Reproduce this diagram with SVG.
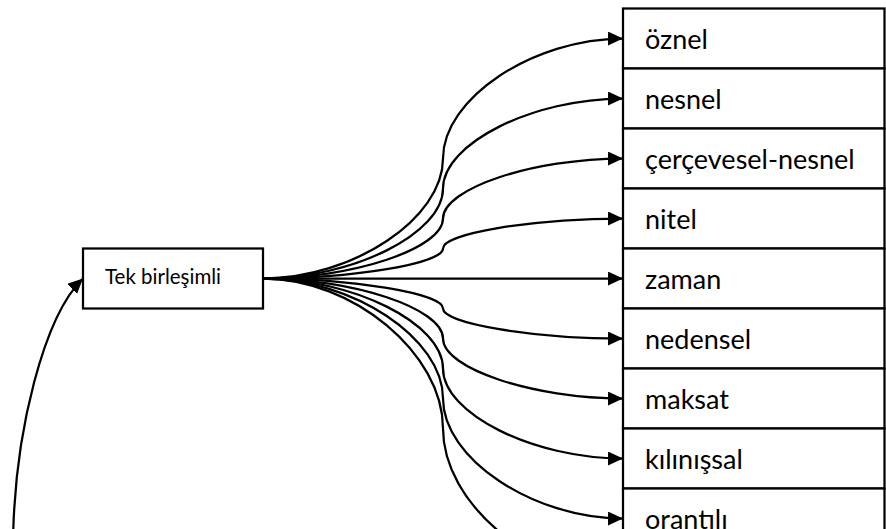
<svg xmlns="http://www.w3.org/2000/svg" width="886" height="529" viewBox="0 0 886 529">
  <style>
    .box { fill: #ffffff; stroke: #000000; stroke-width: 2.25; }
    .lbl { font-family: Lato, "Open Sans", "Liberation Sans", sans-serif; fill: #000000; }
    .big { font-size: 27px; }
    .small { font-size: 20.5px; }
    .link { fill: none; stroke: #000000; stroke-width: 2.25; marker-end: url(#arrow); }
  </style>
  <defs>
    <marker id="arrow" markerUnits="userSpaceOnUse" markerWidth="16" markerHeight="15" refX="15" refY="7" orient="auto">
      <path d="M0,0 L15,7 L0,14 z" fill="#000000"/>
    </marker>
  </defs>

  <rect width="886" height="529" fill="#ffffff"/>

  <!-- source node -->
  <g id="tek-birlesimli">
    <rect class="box" x="83" y="248.5" width="180" height="60"/>
    <text class="lbl small" x="105" y="283.5">Tek birleşimli</text>
  </g>

  <!-- target column -->
  <g id="oznel">
    <rect class="box" x="623" y="8.5" width="261.5" height="60"/>
    <text class="lbl big" x="645" y="48.5">öznel</text>
  </g>
  <g id="nesnel">
    <rect class="box" x="623" y="68.5" width="261.5" height="60"/>
    <text class="lbl big" x="645" y="108.5">nesnel</text>
  </g>
  <g id="cercevesel-nesnel">
    <rect class="box" x="623" y="128.5" width="261.5" height="60"/>
    <text class="lbl big" x="645" y="168.5">çerçevesel-nesnel</text>
  </g>
  <g id="nitel">
    <rect class="box" x="623" y="188.5" width="261.5" height="60"/>
    <text class="lbl big" x="645" y="228.5">nitel</text>
  </g>
  <g id="zaman">
    <rect class="box" x="623" y="248.5" width="261.5" height="60"/>
    <text class="lbl big" x="645" y="288.5">zaman</text>
  </g>
  <g id="nedensel">
    <rect class="box" x="623" y="308.5" width="261.5" height="60"/>
    <text class="lbl big" x="645" y="348.5">nedensel</text>
  </g>
  <g id="maksat">
    <rect class="box" x="623" y="368.5" width="261.5" height="60"/>
    <text class="lbl big" x="645" y="408.5">maksat</text>
  </g>
  <g id="kilinissal">
    <rect class="box" x="623" y="428.5" width="261.5" height="60"/>
    <text class="lbl big" x="645" y="468.5">kılınışsal</text>
  </g>
  <g id="orantili">
    <rect class="box" x="623" y="488.5" width="261.5" height="60"/>
    <text class="lbl big" x="645" y="528.5">orantılı</text>
  </g>

  <!-- connectors -->
  <g id="connectors">
    <path class="link" d="M263,278.5 C353,278.5 443,218.5 443,158.5 C443,98.5 533,38.5 623,38.5"/>
    <path class="link" d="M263,278.5 C353,278.5 443,233.5 443,188.5 C443,143.5 533,98.5 623,98.5"/>
    <path class="link" d="M263,278.5 C353,278.5 443,248.5 443,218.5 C443,188.5 533,158.5 623,158.5"/>
    <path class="link" d="M263,278.5 C353,278.5 443,263.5 443,248.5 C443,233.5 533,218.5 623,218.5"/>
    <path class="link" d="M263,278.5 L623,278.5"/>
    <path class="link" d="M263,278.5 C353,278.5 443,293.5 443,308.5 C443,323.5 533,338.5 623,338.5"/>
    <path class="link" d="M263,278.5 C353,278.5 443,308.5 443,338.5 C443,368.5 533,398.5 623,398.5"/>
    <path class="link" d="M263,278.5 C353,278.5 443,323.5 443,368.5 C443,413.5 533,458.5 623,458.5"/>
    <path class="link" d="M263,278.5 C353,278.5 443,338.5 443,398.5 C443,458.5 533,518.5 623,518.5"/>
    <path class="link" d="M263,278.5 C353,278.5 443,353.5 443,428.5 C443,503.5 533,578.5 623,578.5"/>
    <path class="link" d="M13,545 C14,430 45,315 83,278.5"/>
  </g>
</svg>
